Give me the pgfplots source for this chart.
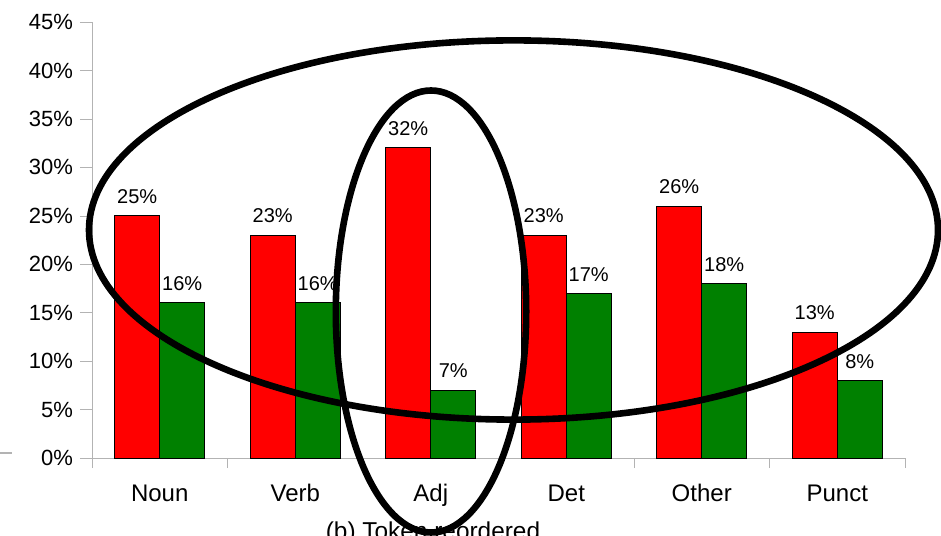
\documentclass[border=0pt]{standalone}
\usepackage{pgfplots}
\pgfplotsset{compat=1.18}
\usepackage{fontspec}
\setmainfont{Liberation Sans}
\definecolor{axgray}{HTML}{B3B3B3}
\definecolor{barred}{HTML}{FF0000}
\definecolor{bargreen}{HTML}{008000}
\begin{document}
\begin{tikzpicture}
\useasboundingbox (0,0) rectangle (470.5pt,267.5pt);
\begin{axis}[
  at={(46pt,38.5pt)}, anchor=south west,
  scale only axis, width=406.5pt, height=218pt,
  ybar=0pt, bar width=22.5pt,
  xmin=-0.5, xmax=5.5, ymin=0, ymax=45,
  axis x line*=bottom, axis y line*=left,
  axis line style={axgray, -},
  xtick={0,1,2,3,4,5},
  xticklabels={Noun,Verb,Adj,Det,Other,Punct},
  minor xtick={-0.5,0.5,1.5,2.5,3.5,4.5,5.5},
  ytick={0,5,...,45},
  yticklabel={\pgfmathprintnumber{\tick}\%},
  /pgf/number format/assume math mode=true,
  tick align=outside,
  major tick length=6pt,
  minor tick length=5pt,
  x tick style={draw=none},
  minor x tick style={draw=axgray},
  y tick style={draw=axgray},
  yticklabel style={font=\fontsize{11pt}{13pt}\selectfont},
  xticklabel style={font=\fontsize{12pt}{14pt}\selectfont, text height=0.72em, text depth=0.22em, yshift=-5pt},
  nodes near coords={\pgfmathprintnumber{\pgfplotspointmeta}\%},
  nodes near coords style={font=\fontsize{10pt}{12pt}\selectfont, yshift=2.5pt},
  clip=false,
]
\addplot[fill=barred, draw=black, line width=0.5pt] coordinates {(0,25) (1,23) (2,32) (3,23) (4,26) (5,13)};
\addplot[fill=bargreen, draw=black, line width=0.5pt] coordinates {(0,16) (1,16) (2,7) (3,17) (4,18) (5,8)};
\end{axis}
\begin{scope}[overlay]
\clip (0,0) rectangle (470.5pt,267.5pt);
\begin{scope}[x=0.5pt, y=-0.5pt, shift={(0pt,267.5pt)}]
\draw[axgray, line width=0.6pt] (0,453) -- (12,453);
\draw[black, line width=3.3pt] (513.5,230) ellipse [x radius=212.25pt, y radius=94.8pt];
\draw[black, line width=3.3pt] (431,311.5) ellipse [x radius=47.6pt, y radius=110.5pt];
\node[anchor=base, font=\fontsize{12.2pt}{14pt}\selectfont, inner sep=0pt] at (433,539) {(b) Token reordered};
\end{scope}
\end{scope}
\end{tikzpicture}
\end{document}
